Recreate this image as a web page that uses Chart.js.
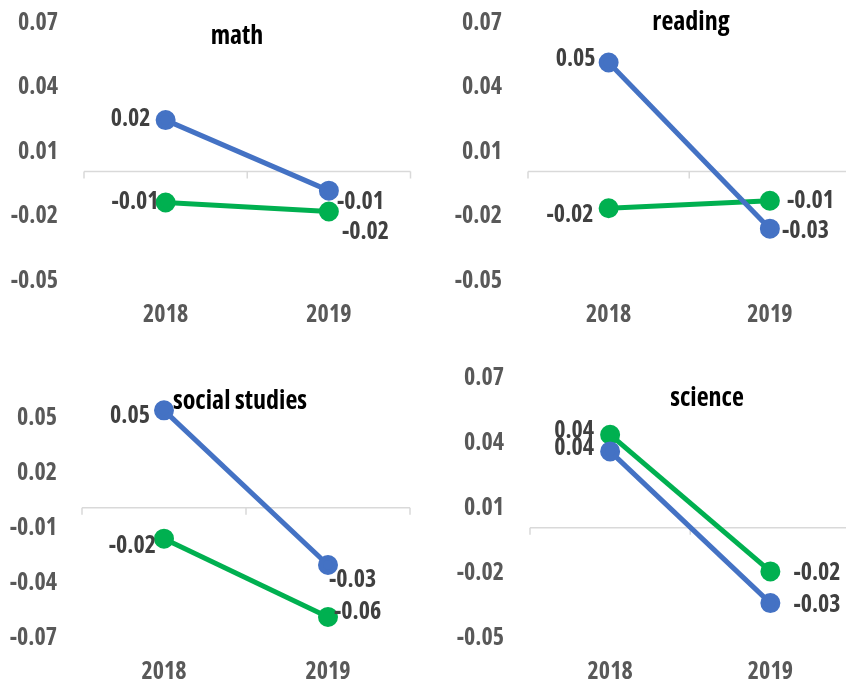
<!DOCTYPE html>
<html>
<head>
<meta charset="utf-8">
<script src="https://cdn.jsdelivr.net/npm/chart.js@4.4.1/dist/chart.umd.min.js"></script>
<style>
  html, body { margin: 0; padding: 0; background: #fff; overflow: hidden; width: 846px; height: 683px; position: relative; }
  .panel { position: absolute; overflow: hidden; }
</style>
</head>
<body>
<div class="panel" style="left:0;top:0;width:423px;height:340px"><canvas id="c0" width="423" height="340"></canvas></div>
<div class="panel" style="left:423px;top:0;width:423px;height:340px"><canvas id="c1" width="440" height="340"></canvas></div>
<div class="panel" style="left:0;top:340px;width:423px;height:343px"><canvas id="c2" width="423" height="343"></canvas></div>
<div class="panel" style="left:423px;top:340px;width:423px;height:343px"><canvas id="c3" width="440" height="343"></canvas></div>
<script>
// data
const years = ['2018', '2019'];
const subjects = ['math', 'reading', 'social studies', 'science'];

const mathA = [0.0239, -0.0089];
const mathB = [-0.0144, -0.0186];
const readingA = [0.0507, -0.0266];
const readingB = [-0.0171, -0.0136];
const socialA = [0.0531, -0.0313];
const socialB = [-0.0169, -0.0596];
const scienceA = [0.0352, -0.0348];
const scienceB = [0.0429, -0.0202];

const ticksMain = [0.07, 0.04, 0.01, -0.02, -0.05];
const ticksSocial = [0.05, 0.02, -0.01, -0.04, -0.07];

// Open Sans is variable here, 'condensed' picks the narrow width
const FAMILY = "'Open Sans', sans-serif";
const WEIGHT = 'bold condensed';
const BLUE = '#4472C4';
const GREEN = '#00B050';
const TICK_COLOR = '#595959';
const LABEL_COLOR = '#404040';

// zero line with small category tick marks
const zeroLine = {
  id: 'zeroLine',
  beforeDatasetsDraw(chart) {
    const { ctx, chartArea } = chart;
    const y0 = chart.scales.y.getPixelForValue(0);
    ctx.save();
    ctx.strokeStyle = '#D9D9D9';
    ctx.lineWidth = 1.5;
    ctx.beginPath();
    ctx.moveTo(chartArea.left, y0);
    ctx.lineTo(chartArea.right, y0);
    const mid = (chartArea.left + chartArea.right) / 2;
    [chartArea.left, mid, chartArea.right].forEach(x => {
      ctx.moveTo(x, y0);
      ctx.lineTo(x, y0 + 7);
    });
    ctx.stroke();
    ctx.restore();
  }
};

// value labels next to each point
const valueLabels = {
  id: 'valueLabels',
  afterDatasetsDraw(chart, args, opts) {
    const { ctx } = chart;
    ctx.save();
    ctx.font = WEIGHT + ' 24px ' + FAMILY;
    ctx.fillStyle = LABEL_COLOR;
    ctx.textBaseline = 'middle';
    chart.data.datasets.forEach((ds, i) => {
      const meta = chart.getDatasetMeta(i);
      meta.data.forEach((pt, j) => {
        const off = opts.offsets[i][j];
        ctx.textAlign = off[2];
        ctx.fillText(ds.data[j].toFixed(2), pt.x + off[0], pt.y + off[1] + 1);
      });
    });
    ctx.restore();
  }
};

const panelTitle = {
  id: 'panelTitle',
  afterDraw(chart, args, opts) {
    const { ctx } = chart;
    ctx.save();
    ctx.font = WEIGHT + ' 26px ' + FAMILY;
    ctx.fillStyle = '#000';
    ctx.textAlign = 'center';
    ctx.textBaseline = 'alphabetic';
    ctx.fillText(opts.text, opts.x, opts.y);
    ctx.restore();
  }
};

function makeChart(id, title, a, b, ticks, lay) {
  const canvas = document.getElementById(id);
  const w = canvas.width, h = canvas.height;
  const xh = 47;
  return new Chart(canvas, {
    type: 'line',
    data: {
      labels: years,
      datasets: [
        { data: a, borderColor: BLUE, backgroundColor: BLUE, borderWidth: 5, pointRadius: 7.5, pointHoverRadius: 7.5, clip: false },
        { data: b, borderColor: GREEN, backgroundColor: GREEN, borderWidth: 5, pointRadius: 7.5, pointHoverRadius: 7.5, clip: false }
      ]
    },
    options: {
      responsive: false,
      animation: false,
      events: [],
      layout: { padding: { left: 0, top: lay.top, right: w - lay.right, bottom: h - lay.bottom - xh } },
      scales: {
        x: {
          type: 'category',
          offset: true,
          grid: { display: false, drawTicks: false },
          border: { display: false },
          ticks: { color: TICK_COLOR, font: { family: FAMILY, size: 24, weight: WEIGHT }, padding: 22 },
          afterFit: s => { s.height = xh; s.paddingLeft = 0; s.paddingRight = 0; }
        },
        y: {
          min: ticks[ticks.length - 1],
          max: ticks[0],
          grid: { display: false, drawTicks: false },
          border: { display: false },
          afterBuildTicks: s => { s.ticks = ticks.map(v => ({ value: v })); },
          ticks: {
            color: TICK_COLOR,
            font: { family: FAMILY, size: 24, weight: WEIGHT },
            padding: lay.pad,
            labelOffset: 2,
            callback: v => Number(v).toFixed(2)
          },
          afterFit: s => { s.width = lay.left; s.paddingTop = 0; s.paddingBottom = 0; }
        }
      },
      plugins: {
        legend: { display: false },
        tooltip: { enabled: false },
        panelTitle: { text: title, x: lay.titleX, y: lay.titleY },
        valueLabels: { offsets: lay.offsets }
      }
    },
    plugins: [zeroLine, valueLabels, panelTitle]
  });
}

makeChart('c0', subjects[0], mathA, mathB, ticksMain, {
  left: 84, right: 411, top: 21, bottom: 279, pad: 26, titleX: 237, titleY: 44,
  offsets: [[[-15, -2, 'right'], [8, 11, 'left']], [[-7, -1, 'right'], [13, 20, 'left']]]
});
makeChart('c1', subjects[1], readingA, readingB, ticksMain, {
  left: 105, right: 431, top: 21, bottom: 279, pad: 26, titleX: 268, titleY: 30,
  offsets: [[[-13, -4, 'right'], [12, 1, 'left']], [[-15, 6, 'right'], [17, -1, 'left']]]
});
makeChart('c2', subjects[2], socialA, socialB, ticksSocial, {
  left: 82, right: 410, top: 76, bottom: 296, pad: 25, titleX: 240, titleY: 69,
  offsets: [[[-14, 5, 'right'], [1, 14, 'left']], [[-8, 7, 'right'], [6, -6, 'left']]]
});
makeChart('c3', subjects[3], scienceA, scienceB, ticksMain, {
  left: 107, right: 432, top: 36, bottom: 296, pad: 26, titleX: 284, titleY: 66,
  offsets: [[[-16, -4, 'right'], [23, 1, 'left']], [[-16, -5, 'right'], [23, 1, 'left']]]
});
</script>
</body>
</html>
